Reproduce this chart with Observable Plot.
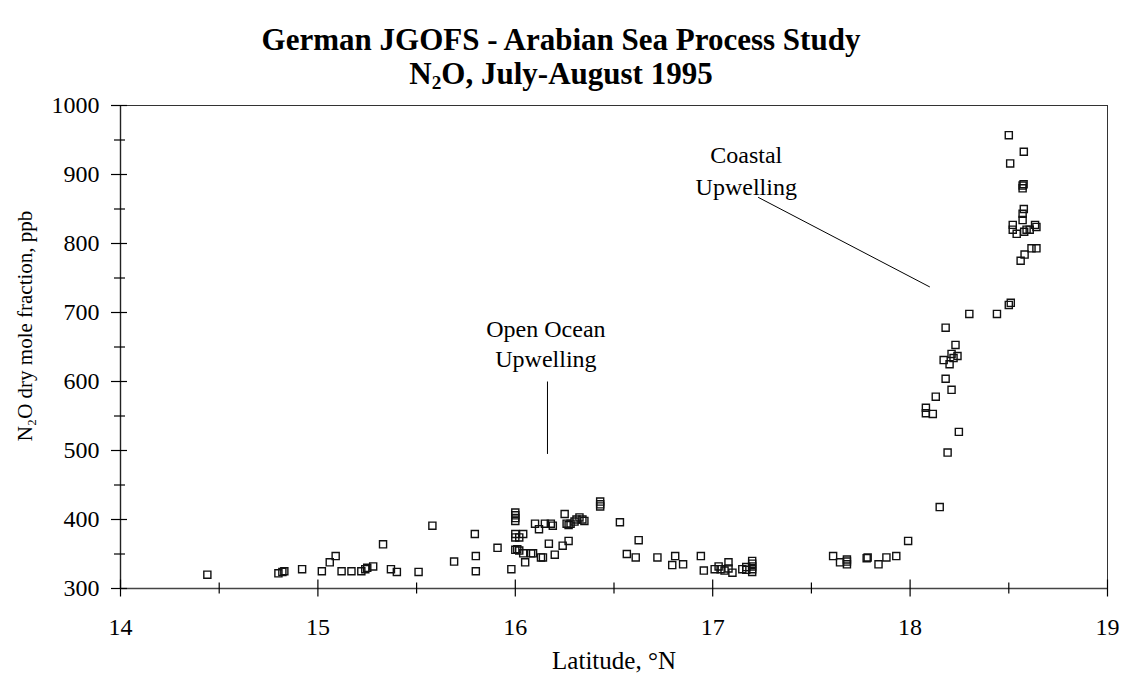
<!DOCTYPE html>
<html><head><meta charset="utf-8">
<script src="https://cdn.jsdelivr.net/npm/d3@7"></script>
<script src="https://cdn.jsdelivr.net/npm/@observablehq/plot@0.6"></script>
<style>
body{margin:0;background:#fff;}
#wrap{position:relative;width:1122px;height:673px;font-family:"Liberation Serif","Times New Roman",serif;overflow:hidden;background:#fff;}
.t{position:absolute;left:0;width:1122px;text-align:center;font-weight:bold;font-size:31px;line-height:34px;color:#000;z-index:2;}
.t sub{font-size:0.62em;vertical-align:-0.25em;line-height:0;}
#chart{position:absolute;left:0;top:80px;z-index:1;}
#chart svg, #chart svg text{font-family:"Liberation Serif","Times New Roman",serif !important;}
</style></head><body>
<div id="wrap">
<div id="chart"></div>
<div class="t" style="top:23px">German JGOFS - Arabian Sea Process Study</div>
<div class="t" style="top:57px">N<sub>2</sub>O, July-August 1995</div>
</div>
<script>
// Samples: latitude (°N) and N2O dry mole fraction (ppb)
const latitude = [
  14.44, 14.80, 14.82, 14.83, 14.92, 15.02, 15.06, 15.09, 15.12, 15.17, 15.22, 15.24, 15.25, 15.28, 15.33, 15.37, 15.40, 15.51, 15.58, 15.69, 15.795, 15.80, 15.80,
  15.91, 15.98, 16.00, 16.00, 16.00, 16.00, 16.00, 16.00, 16.02, 16.04, 16.00, 16.01, 16.02, 16.04, 16.05, 16.08, 16.09, 16.10, 16.12, 16.13, 16.14, 16.15, 16.17, 16.18, 16.19, 16.20, 16.24, 16.25, 16.26, 16.27, 16.27, 16.28, 16.30, 16.31, 16.325, 16.34, 16.35, 16.43, 16.43, 16.43, 16.53, 16.565, 16.61, 16.625, 16.72, 16.795, 16.81, 16.85, 16.94, 16.955, 17.01, 17.03, 17.04, 17.06, 17.08, 17.08, 17.10, 17.15, 17.17, 17.17, 17.20, 17.20, 17.20, 17.20, 17.20,
  17.61, 17.645, 17.68, 17.68, 17.68, 17.78, 17.785, 17.84, 17.88, 17.93, 17.99, 18.15,
  18.19, 18.247, 18.08, 18.08, 18.115, 18.13, 18.21, 18.18, 18.20, 18.17, 18.22, 18.21, 18.24, 18.23, 18.18, 18.30, 18.44, 18.50, 18.51,
  18.50, 18.576, 18.507, 18.57, 18.575, 18.57, 18.576, 18.57, 18.57, 18.52, 18.52, 18.54, 18.578, 18.59, 18.606, 18.633, 18.64, 18.615, 18.64, 18.58, 18.56
];
const n2o = [
  320, 322, 324, 325, 328, 325, 338, 347, 325, 325, 325, 328, 330, 332, 364, 328, 324, 324, 391, 339, 379, 347, 325,
  359, 328, 410, 406, 402, 398, 379, 374, 374, 379, 356, 357, 355, 351, 338, 351, 351, 394, 386, 345, 345, 394, 365, 394, 391, 349, 362, 408, 394, 369, 392, 394, 397, 400, 403, 400, 398, 426, 422, 419, 396, 350, 345, 370, 345, 334, 347, 335, 347, 326, 328, 332, 328, 326, 338, 329, 323, 328, 331, 327, 340, 336, 332, 328, 324,
  347, 338, 342, 339, 335, 344, 345, 335, 345, 347, 369, 418,
  497, 527, 562, 554, 553, 578, 588, 604, 625, 631, 634, 640, 637, 653, 678, 698, 698, 711, 714,
  957, 933, 916, 884, 886, 880, 850, 843, 834, 827, 820, 814, 817, 820, 820, 827, 824, 793, 793, 784, 775
];

// Axis ticks
const xMajorTicks = [14, 15, 16, 17, 18, 19];
const xMinorTicks = [14.5, 15.5, 16.5, 17.5, 18.5];
const yMajorTicks = [300, 400, 500, 600, 700, 800, 900, 1000];
const yMinorTicks = [350, 450, 550, 650, 750, 850, 950];

// Annotations
const noteText = ["Coastal", "Upwelling", "Open Ocean", "Upwelling"];
const noteLat = [17.17, 17.17, 16.155, 16.155];
const noteN2O = [928, 882, 675, 632];
const leaderLatFrom = [17.23, 16.163];
const leaderN2OFrom = [867, 600];
const leaderLatTo = [18.10, 16.163];
const leaderN2OTo = [737, 495];

const points = latitude.map((x, i) => ({lat: x, n2o: n2o[i]}));
const notes = noteText.map((t, i) => ({text: t, lat: noteLat[i], n2o: noteN2O[i]}));
const leaders = leaderLatFrom.map((x, i) => ({x1: x, y1: leaderN2OFrom[i], x2: leaderLatTo[i], y2: leaderN2OTo[i]}));

const font = "Liberation Serif";
const chart = Plot.plot({
  width: 1122,
  height: 593,
  marginTop: 25,
  marginBottom: 85,
  marginLeft: 120,
  marginRight: 15,
  style: {fontFamily: font, fontSize: "24px", color: "#000", background: "transparent", overflow: "visible"},
  x: {domain: [14, 19], label: null},
  y: {domain: [300, 1000], label: null},
  marks: [
    Plot.frame({stroke: "#333", strokeWidth: 1}),
    Plot.ruleY([300], {stroke: "#444", strokeWidth: 1.6}),
    Plot.ruleX([14], {stroke: "#222", strokeWidth: 1.4}),
    // crossing tick marks
    Plot.axisX({ticks: xMajorTicks, tickSize: 17, dy: -8.5, tickFormat: () => "", stroke: "#000", strokeWidth: 1.2}),
    Plot.axisX({ticks: xMinorTicks, tickSize: 11, dy: -5.5, tickFormat: () => "", stroke: "#000", strokeWidth: 1.2}),
    Plot.axisY({ticks: yMajorTicks, tickSize: 16, dx: 7, tickFormat: () => "", stroke: "#000", strokeWidth: 1.2}),
    Plot.axisY({ticks: yMinorTicks, tickSize: 11, dx: 5, tickFormat: () => "", stroke: "#000", strokeWidth: 1.2}),
    // tick labels
    Plot.axisX({ticks: xMajorTicks, tickSize: 0, tickPadding: 29, fontSize: 24, fontFamily: font, fill: "#000", tickFormat: d => String(d)}),
    Plot.axisY({ticks: yMajorTicks, tickSize: 0, tickPadding: 21, fontSize: 24, fontFamily: font, fill: "#000", tickFormat: d => String(d)}),
    // axis titles
    Plot.text(["Latitude, °N"], {frameAnchor: "bottom", dy: 80, fontSize: 25, fontFamily: font, fill: "#000"}),
    Plot.text(["N₂O dry mole fraction, ppb"], {frameAnchor: "left", textAnchor: "middle", rotate: -90, dx: -95, dy: -21, fontSize: 21, fontFamily: font, fill: "#000"}),
    // annotations
    Plot.link(leaders, {x1: "x1", y1: "y1", x2: "x2", y2: "y2", stroke: "#000", strokeWidth: 1}),
    Plot.text(notes, {x: "lat", y: "n2o", text: "text", fontSize: 24, fontFamily: font, fill: "#000"}),
    // data
    Plot.dot(points, {x: "lat", y: "n2o", symbol: "square", r: 4, stroke: "#111", strokeWidth: 1.4, fill: "none"})
  ]
});
document.getElementById("chart").appendChild(chart);
</script>
</body></html>
